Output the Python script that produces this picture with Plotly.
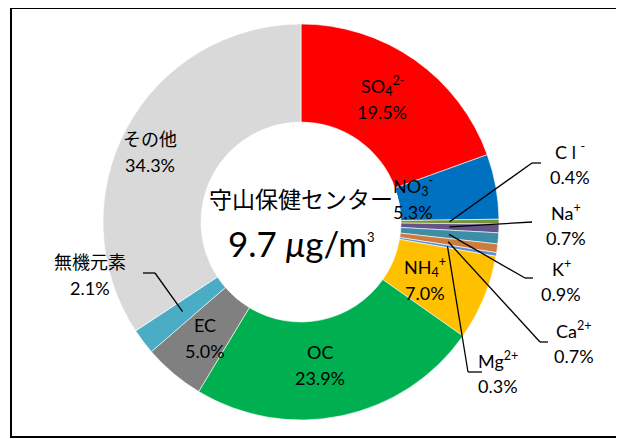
import math
import plotly.graph_objects as go

# composition of PM2.5 at 守山保健センター (percent)
names = ["SO4", "NO3", "Cl", "Na", "K", "Ca", "Mg", "NH4", "OC", "EC", "無機元素", "その他"]
label_text = ["SO<sub>4</sub><sup>2-</sup>", "NO<sub>3</sub><sup>-</sup>", "C l <sup>-</sup>",
              "Na<sup>+</sup>", "K<sup>+</sup>", "Ca<sup>2+</sup>", "Mg<sup>2+</sup>",
              "NH<sub>4</sub><sup>+</sup>", "OC", "EC", "無機元素", "その他"]
values = [19.5, 5.3, 0.4, 0.7, 0.9, 0.7, 0.3, 7.0, 23.9, 5.0, 2.1, 34.3]
colors = ["#FF0000", "#0070C0", "#77933C", "#65538A", "#3B8EA5", "#CD7B3E", "#5B8FD6",
          "#FFC000", "#00B050", "#808080", "#4BACC6", "#D9D9D9"]
site = "守山保健センター"
total_mass = "9.7"

W, H = 624, 439
OFF = 8  # page body margin pushes the plot 8px right/down
# pie box in screen pixels
X0, X1, Y0, Y1 = 103, 499, 24, 420
CX, CY, R = (X0 + X1) / 2, (Y0 + Y1) / 2, (X1 - X0) / 2
FONT = "Lato, Noto Sans CJK JP, sans-serif"


def px(x):
    return (x - OFF) / W


def py(y):
    return 1 - (y - OFF) / H


fig = go.Figure(go.Pie(
    values=values, labels=names, sort=False, direction="clockwise", rotation=0,
    hole=0.505, marker=dict(colors=colors, line=dict(color="white", width=0.6)),
    textinfo="none", hoverinfo="label+value", showlegend=False,
    domain=dict(x=[px(X0), px(X1)], y=[py(Y1), py(Y0)]),
))

# label placement (screen pixel centre of the name line) and optional leader path
place = {
    "SO4": (382, 86), "NO3": (413, 186), "Cl": (570, 151), "Na": (566, 212),
    "K": (561, 268), "Ca": (574, 330), "Mg": (498, 360), "NH4": (425, 267),
    "OC": (320, 352), "EC": (205, 325), "無機元素": (90, 262), "その他": (150, 139),
}
leaders = {
    "Cl": [(532, 163), (541, 163)],
    "Na": [(532, 222)],
    "K": [(525, 278), (533, 278)],
    "Ca": [(540, 342), (548, 342)],
    "Mg": [(468, 372), (482, 372)],
    "無機元素": [(155, 273), (143, 273)],
}

tot = sum(values)
cum = 0
shapes = []
annotations = []
for n, lt, v in zip(names, label_text, values):
    mid = 2 * math.pi * (cum + v / 2) / tot
    cum += v
    x, y = place[n]
    annotations.append(dict(x=px(x), y=py(y), text=lt, showarrow=False,
                            font=dict(size=18, color="black", family=FONT),
                            xanchor="center", yanchor="middle"))
    annotations.append(dict(x=px(x), y=py(y + 26), text=f"{v:.1f}%", showarrow=False,
                            font=dict(size=18, color="black", family=FONT),
                            xanchor="center", yanchor="middle"))
    if n in leaders:
        r = 0.75 * R
        pts = [(CX + r * math.sin(mid), CY - r * math.cos(mid))] + leaders[n]
        for (ax, ay), (bx, by) in zip(pts[:-1], pts[1:]):
            shapes.append(dict(type="line", xref="paper", yref="paper",
                               x0=px(ax), y0=py(ay), x1=px(bx), y1=py(by),
                               line=dict(color="black", width=1.3)))

# centre text
annotations.append(dict(x=px(CX), y=py(199), text=site, showarrow=False,
                        font=dict(size=23, color="black", family=FONT)))
annotations.append(dict(x=px(CX), y=py(243),
                        text=f"{total_mass} <i>μ</i>g/m<sup><span style='font-size:13px'>3</span></sup>",
                        showarrow=False, font=dict(size=35, color="black", family=FONT)))

# outer frame
shapes.append(dict(type="rect", xref="paper", yref="paper",
                   x0=px(11), y0=py(437), x1=px(621), y1=py(8),
                   line=dict(color="black", width=2)))

fig.update_layout(
    width=W, height=H, margin=dict(l=0, r=0, t=0, b=0),
    paper_bgcolor="white", plot_bgcolor="white",
    shapes=shapes, annotations=annotations,
)

fig.write_html("out.html")
